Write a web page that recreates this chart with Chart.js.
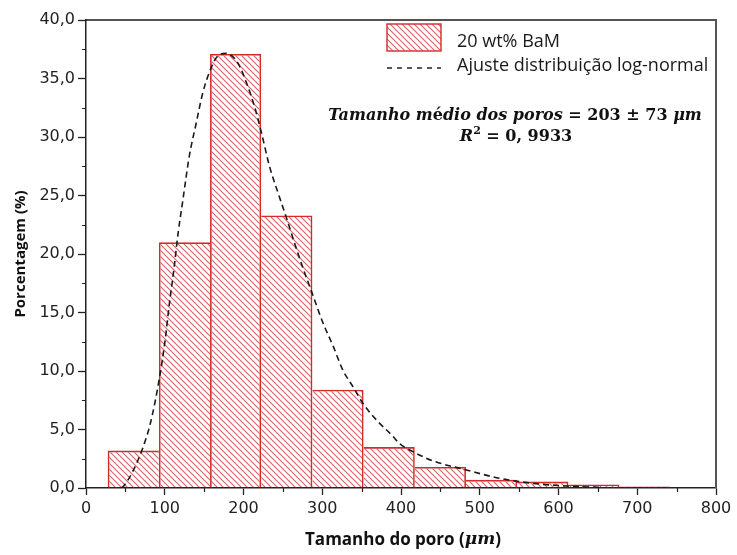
<!DOCTYPE html>
<html>
<head>
<meta charset="utf-8">
<script src="https://cdn.jsdelivr.net/npm/chart.js@4/dist/chart.umd.min.js"></script>
<style>
  html, body { margin: 0; padding: 0; background: #fff; }
  canvas { display: block; }
</style>
</head>
<body>
<canvas id="c" width="737" height="555"></canvas>
<script>
// Pore size histogram (bin centres, µm) and share of pores per bin (%)
const binCenters = [60, 125, 190, 255, 320, 385, 450, 515, 580, 645, 710];
const binPercent = [3.2, 21.0, 37.1, 23.3, 8.4, 3.5, 1.8, 0.7, 0.55, 0.3, 0.12];

// Log-normal fit curve, sampled points (µm, %)
const fitSize = [45, 49, 60, 72, 82, 93, 100, 106, 112, 117, 123, 131, 140, 148, 157, 167, 178, 193, 204, 214, 223,
                 233, 244, 254, 265, 275, 288, 301, 314, 326, 339, 352, 369, 390, 398, 411, 432, 441, 483, 525, 567, 610, 652];
const fitPercent = [0.0, 0.26, 1.5, 3.4, 5.6, 9.3, 12.4, 15.8, 18.9, 21.8, 24.6, 28.3, 31.2, 33.7, 35.6, 36.9, 37.15, 36.3, 34.6, 32.6, 30.3,
                    27.5, 25.2, 23.2, 20.9, 18.9, 16.5, 14.1, 12.1, 10.1, 8.66, 7.2, 5.8, 4.4, 3.8, 3.25, 2.55, 2.3, 1.54, 0.83, 0.4, 0.17, 0.06];

const seriesLabels = ['20 wt% BaM', 'Ajuste distribuição log-normal'];
const xTitleParts = ['Tamanho do poro (', 'μm', ')'];
const yTitle = 'Porcentagem (%)';

const RED = '#d42a2a';
const EDGE = 1.6;

// Diagonal "\" hatch used for the histogram bars and the legend swatch
function makeHatch() {
  const s = 6;
  const cv = document.createElement('canvas');
  cv.width = s; cv.height = s;
  const g = cv.getContext('2d');
  g.strokeStyle = 'rgba(205,70,75,0.85)';
  g.lineWidth = 1.1;
  g.beginPath();
  for (const o of [-s, 0, s]) { g.moveTo(o - 1, -1); g.lineTo(o + s + 1, s + 1); }
  g.stroke();
  return g.createPattern(cv, 'repeat');
}
const hatch = makeHatch();

// A shared edge between two neighbouring bins is outlined once, by the taller bin
function binEdges(ctx) {
  const i = ctx.dataIndex, v = binPercent[i];
  const last = binPercent.length - 1;
  return {
    top: EDGE,
    bottom: 0,
    left: (i === 0 || binPercent[i - 1] < v) ? EDGE : 0,
    right: (i === last || binPercent[i + 1] <= v) ? EDGE : 0
  };
}

const fmtComma = v => v.toFixed(1).replace('.', ',');

// Frame, minor ticks, legend, fit annotation and the x-axis title
const decor = {
  id: 'decor',
  afterDraw(chart) {
    const { ctx, chartArea: a, scales: { x, y } } = chart;
    ctx.save();

    // top and right frame
    ctx.lineCap = 'butt';
    ctx.strokeStyle = '#1a1a1a'; ctx.lineWidth = 1.6;
    ctx.beginPath(); ctx.moveTo(a.left, a.top); ctx.lineTo(a.right + 1, a.top); ctx.stroke();
    ctx.strokeStyle = '#555'; ctx.lineWidth = 2;
    ctx.beginPath(); ctx.moveTo(a.right, a.top); ctx.lineTo(a.right, a.bottom); ctx.stroke();

    // minor ticks
    ctx.strokeStyle = '#222'; ctx.lineWidth = 1.2;
    ctx.beginPath();
    for (let v = 50; v < 800; v += 100) {
      const px = Math.round(x.getPixelForValue(v)) + 0.5;
      ctx.moveTo(px, a.bottom); ctx.lineTo(px, a.bottom + 4);
    }
    for (let v = 2.5; v < 40; v += 5) {
      const py = Math.round(y.getPixelForValue(v)) + 0.5;
      ctx.moveTo(a.left - 4, py); ctx.lineTo(a.left, py);
    }
    ctx.stroke();

    // legend
    const lx = a.left + 301, ly = a.top + 4;
    ctx.fillStyle = hatch;
    ctx.fillRect(lx, ly, 54, 27);
    ctx.strokeStyle = RED; ctx.lineWidth = 1.4;
    ctx.strokeRect(lx, ly, 54, 27);
    ctx.strokeStyle = '#222'; ctx.lineWidth = 1.4;
    ctx.setLineDash([5, 5]);
    ctx.beginPath(); ctx.moveTo(lx, ly + 44); ctx.lineTo(lx + 54, ly + 44); ctx.stroke();
    ctx.setLineDash([]);
    ctx.fillStyle = '#1a1a1a';
    ctx.font = '18px "Open Sans"';
    ctx.textBaseline = 'middle'; ctx.textAlign = 'left';
    ctx.fillText(seriesLabels[0], lx + 70, ly + 18);
    ctx.fillText(seriesLabels[1], lx + 70, ly + 42);

    // fit annotation, math-style mixed fonts
    const serif = '"DejaVu Serif", "Liberation Serif", serif';
    const drawRuns = (runs, cx, cy) => {
      let w = 0;
      for (const r of runs) { ctx.font = r[1]; w += ctx.measureText(r[0]).width; }
      let xx = cx - w / 2;
      for (const r of runs) {
        ctx.font = r[1];
        ctx.fillText(r[0], xx, cy + (r[2] || 0));
        xx += ctx.measureText(r[0]).width;
      }
    };
    ctx.fillStyle = '#111';
    ctx.textBaseline = 'middle';
    const bi = `italic bold 16px ${serif}`, b = `bold 16px ${serif}`;
    drawRuns([
      ['Tamanho m', bi], ['é', b], ['dio dos poros', bi],
      [' = 203 ± 73 ', b], ['μm', bi]
    ], a.left + 429, a.top + 96);
    drawRuns([
      ['R', bi], ['2', `bold 11px ${serif}`, -6], [' = 0, 9933', b]
    ], a.left + 430, a.top + 117);

    // x-axis title
    ctx.fillStyle = '#111';
    const tb = 'bold 17px "Open Sans"';
    const ti = `italic bold 17px ${serif}`;
    drawRuns([[xTitleParts[0], tb], [xTitleParts[1], ti], [xTitleParts[2], tb]],
             (a.left + a.right) / 2 + 2, a.bottom + 52);

    ctx.restore();
  }
};

new Chart(document.getElementById('c'), {
  type: 'bar',
  data: {
    datasets: [
      {
        type: 'line',
        label: seriesLabels[1],
        data: fitSize.map((s, i) => ({ x: s, y: fitPercent[i] })),
        borderColor: '#1a1a1a',
        borderWidth: 1.6,
        borderDash: [6, 4],
        pointRadius: 0,
        fill: false,
        cubicInterpolationMode: 'monotone',
        order: 0
      },
      {
        type: 'bar',
        label: seriesLabels[0],
        data: binCenters.map((c, i) => ({ x: c, y: binPercent[i] })),
        backgroundColor: hatch,
        borderColor: RED,
        borderWidth: binEdges,
        borderSkipped: false,
        barPercentage: 1,
        categoryPercentage: 1,
        inflateAmount: 0,
        order: 1
      }
    ]
  },
  options: {
    responsive: false,
    animation: false,
    layout: { padding: { top: 20, right: 21, bottom: 0, left: 0 } },
    plugins: { legend: { display: false }, tooltip: { enabled: false } },
    scales: {
      x: {
        type: 'linear',
        min: 0, max: 800,
        offset: false,
        afterFit: s => { s.height = 67; },
        ticks: {
          stepSize: 100,
          color: '#222',
          font: { family: '"DejaVu Sans"', size: 16 },
          padding: 4,
          maxRotation: 0
        },
        grid: { offset: false, drawOnChartArea: false, drawTicks: true, tickLength: 7, tickColor: '#222', tickWidth: 1.3 },
        border: { display: true, color: '#222', width: 1.5 }
      },
      y: {
        min: 0, max: 40,
        afterFit: s => { s.width = 86; },
        ticks: {
          stepSize: 5,
          color: '#222',
          font: { family: '"DejaVu Sans"', size: 16 },
          padding: 3,
          callback: v => fmtComma(v)
        },
        grid: { drawOnChartArea: false, drawTicks: true, tickLength: 8, tickColor: '#222', tickWidth: 1.3 },
        border: { display: true, color: '#222', width: 1.5 },
        title: {
          display: true,
          text: yTitle,
          color: '#111',
          font: { family: '"Open Sans"', size: 15, weight: 'bold' },
          padding: { top: 12, bottom: 0 }
        }
      }
    }
  },
  plugins: [decor]
});
</script>
</body>
</html>
